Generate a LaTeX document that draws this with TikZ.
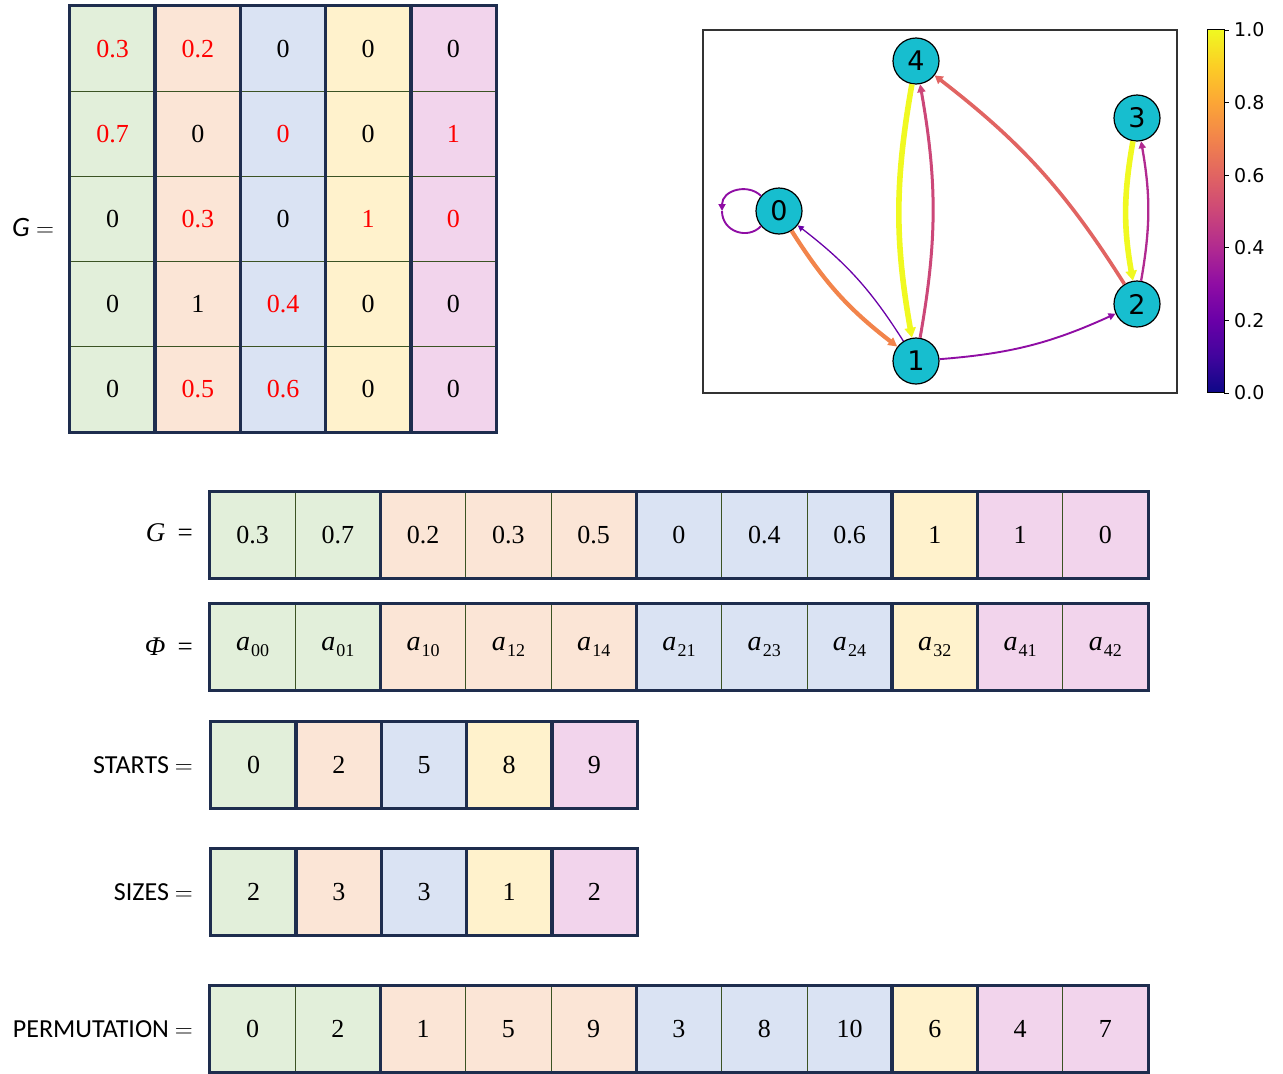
\documentclass[tikz,border=0pt]{standalone}
\usepackage{fontspec}
\usepackage{amsmath}
\setmainfont{Liberation Serif}
\setsansfont{Carlito}
\newfontfamily\djv{DejaVu Sans}
\usetikzlibrary{arrows.meta}
\newcommand{\myasub}[1]{\textit{a}\kern0.04em\raisebox{-0.24em}{\fontsize{18}{20}\selectfont #1}}
\definecolor{cg}{HTML}{E2EFDA}
\definecolor{cp}{HTML}{FBE5D6}
\definecolor{cb}{HTML}{DAE3F3}
\definecolor{cy}{HTML}{FFF2CC}
\definecolor{ck}{HTML}{F2D4EC}
\colorlet{col0}{cg}\colorlet{col1}{cp}\colorlet{col2}{cb}\colorlet{col3}{cy}\colorlet{col4}{ck}
\definecolor{navy}{HTML}{1E2D4E}
\definecolor{thinl}{HTML}{3B5323}
\definecolor{tcyan}{HTML}{17BECF}
\definecolor{frameg}{HTML}{333333}
\definecolor{pl0}{HTML}{0D0887}
\definecolor{pl1}{HTML}{41049D}
\definecolor{pl2}{HTML}{6A00A8}
\definecolor{pl3}{HTML}{8F0DA4}
\definecolor{pl4}{HTML}{B12A90}
\definecolor{pl5}{HTML}{CC4778}
\definecolor{pl6}{HTML}{E16462}
\definecolor{pl7}{HTML}{F2844B}
\definecolor{pl8}{HTML}{FCA636}
\definecolor{pl9}{HTML}{FCCE25}
\definecolor{pl10}{HTML}{F0F921}
\pgfdeclareverticalshading{plasmash}{100bp}{color(0bp)=(pl0); color(25bp)=(pl0); color(30bp)=(pl1); color(35bp)=(pl2); color(40bp)=(pl3); color(45bp)=(pl4); color(50bp)=(pl5); color(55bp)=(pl6); color(60bp)=(pl7); color(65bp)=(pl8); color(70bp)=(pl9); color(75bp)=(pl10); color(100bp)=(pl10)}
\tikzset{
  cell/.style={draw=thinl, line width=0.7pt, minimum width=85.2pt, minimum height=85.2pt, inner sep=0pt, font=\fontsize{26}{30}\selectfont},
  acell/.style={cell, minimum width=85.27pt, minimum height=86pt},
  grp/.style={draw=navy, line width=2.8pt},
  lbl/.style={anchor=east, inner sep=0pt, font=\fontsize{27}{30}\selectfont},
  slbl/.style={anchor=east, inner sep=0pt, font=\sffamily\fontsize{26}{30}\selectfont},
  gnode/.style={circle, draw=black, line width=1.2pt, fill=tcyan, minimum size=46pt, inner sep=0pt, font=\djv\fontsize{27}{30}\selectfont},
  gedge/.style={bend right=10},
  tick/.style={anchor=west, inner sep=0pt, font=\djv\fontsize{19}{22}\selectfont},
}
\begin{document}
\begin{tikzpicture}[x=1pt,y=1pt]
\useasboundingbox (0,0) rectangle (1283,-1074);
% ---------- matrix ----------
\foreach \r/\c/\v/\t in {0/0/0.3/red, 0/1/0.2/red, 0/2/0/black, 0/3/0/black, 0/4/0/black,
  1/0/0.7/red, 1/1/0/black, 1/2/0/red, 1/3/0/black, 1/4/1/red,
  2/0/0/black, 2/1/0.3/red, 2/2/0/black, 2/3/1/red, 2/4/0/red,
  3/0/0/black, 3/1/1/black, 3/2/0.4/red, 3/3/0/black, 3/4/0/black,
  4/0/0/black, 4/1/0.5/red, 4/2/0.6/red, 4/3/0/black, 4/4/0/black}
  \node[cell, fill=col\c, text=\t] (m-\r-\c) at ({70+85.2*\c+42.6},{-(6+85.2*\r+42.6)}) {\v};
\foreach \c in {0,...,4}
  \draw[grp] (m-0-\c.north west) rectangle (m-4-\c.south east);
\node[inner sep=0pt, font=\sffamily\fontsize{28}{30}\selectfont] (mlab) at (33,-228) {\textit{G} $=$};
% ---------- G row ----------
\foreach \i/\v/\c in {0/0.3/0, 1/0.7/0, 2/0.2/1, 3/0.3/1, 4/0.5/1, 5/0/2, 6/0.4/2, 7/0.6/2, 8/1/3, 9/1/4, 10/0/4}
  \node[acell, fill=col\c] (g-\i) at ({210+85.27*\i+42.64},-535) {\v};
\foreach \a/\b in {0/1,2/4,5/7,8/8,9/10}
  \draw[grp] (g-\a.north west) rectangle (g-\b.south east);
\node[lbl] (glab) at (193,-533) {\textit{G}\hspace{0.45em}=};
% ---------- Phi row ----------
\foreach \i/\v/\c in {0/00/0, 1/01/0, 2/10/1, 3/12/1, 4/14/1, 5/21/2, 6/23/2, 7/24/2, 8/32/3, 9/41/4, 10/42/4}
  \node[acell, fill=col\c, font=\fontsize{28}{30}\selectfont] (p-\i) at ({210+85.27*\i+42.64},-647) {\myasub{\v}};
\foreach \a/\b in {0/1,2/4,5/7,8/8,9/10}
  \draw[grp] (p-\a.north west) rectangle (p-\b.south east);
\node[lbl] (plab) at (193,-647) {\textit{Φ}\hspace{0.45em}=};
% ---------- STARTS ----------
\foreach \i/\v in {0/0, 1/2, 2/5, 3/8, 4/9}
  \node[acell, fill=col\i] (s-\i) at ({211+85.2*\i+42.6},-765) {\v};
\foreach \i in {0,...,4}
  \draw[grp] (s-\i.north west) rectangle (s-\i.south east);
\node[slbl] (slab) at (193,-765) {STARTS $=$};
% ---------- SIZES ----------
\foreach \i/\v in {0/2, 1/3, 2/3, 3/1, 4/2}
  \node[acell, fill=col\i] (z-\i) at ({211+85.2*\i+42.6},-892) {\v};
\foreach \i in {0,...,4}
  \draw[grp] (z-\i.north west) rectangle (z-\i.south east);
\node[slbl] (zlab) at (193,-892) {SIZES $=$};
% ---------- PERMUTATION ----------
\foreach \i/\v/\c in {0/0/0, 1/2/0, 2/1/1, 3/5/1, 4/9/1, 5/3/2, 6/8/2, 7/10/2, 8/6/3, 9/4/4, 10/7/4}
  \node[acell, fill=col\c] (q-\i) at ({210+85.27*\i+42.64},-1029) {\v};
\foreach \a/\b in {0/1,2/4,5/7,8/8,9/10}
  \draw[grp] (q-\a.north west) rectangle (q-\b.south east);
\node[slbl] (qlab) at (193,-1029) {PERMUTATION $=$};
% ---------- graph ----------
\node[draw=frameg, line width=1.2pt, minimum width=474pt, minimum height=363pt, inner sep=0pt] (frame) at (940,-211.5) {};
\node[gnode] (n4) at (916,-61) {4};
\node[gnode] (n3) at (1137,-118) {3};
\node[gnode] (n0) at (779,-211) {0};
\node[gnode] (n2) at (1137,-304) {2};
\node[gnode] (n1) at (916,-361) {1};
\draw[gedge, pl10, line width=5.6pt, -{Triangle[length=10pt,width=11pt]}] (n4) to (n1);
\draw[gedge, pl5, line width=3pt, -{Triangle[length=8pt,width=8pt]}] (n1) to (n4);
\draw[gedge, pl10, line width=5.6pt, -{Triangle[length=10pt,width=11pt]}] (n3) to (n2);
\draw[gedge, pl4, line width=2.3pt, -{Triangle[length=7pt,width=7pt]}] (n2) to (n3);
\draw[gedge, pl7, line width=4.2pt, -{Triangle[length=9pt,width=9pt]}] (n0) to (n1);
\draw[gedge, pl2, line width=1.3pt, -{Triangle[length=6pt,width=6pt]}] (n1) to (n0);
\draw[gedge, pl3, line width=1.9pt, -{Triangle[length=7pt,width=7pt]}] (n1) to (n2);
\draw[gedge, pl6, line width=3.6pt, -{Triangle[length=8pt,width=9pt]}] (n2) to (n4);
\coordinate (lp) at (722,-211);
\draw[pl3, line width=1.9pt, -{Triangle[length=7pt,width=7pt]}] (n0.140) .. controls (748,-183) and (722,-190) .. (lp);
\draw[pl3, line width=1.9pt] (lp) .. controls (722,-232) and (748,-240) .. (n0.220);
% ---------- colorbar ----------
\node[draw=black, line width=0.8pt, shade, shading=plasmash, minimum width=17pt, minimum height=363pt, inner sep=0pt, anchor=south west] (cbar) at (1207,-393) {};
\foreach \k/\t in {0/0.0,1/0.2,2/0.4,3/0.6,4/0.8,5/1.0} {
  \draw[line width=0.8pt] (1224,{-393+72.6*\k}) -- (1229,{-393+72.6*\k});
  \node[tick] (tk\k) at (1234,{-393+72.6*\k}) {\t};
}
\end{tikzpicture}
\end{document}
